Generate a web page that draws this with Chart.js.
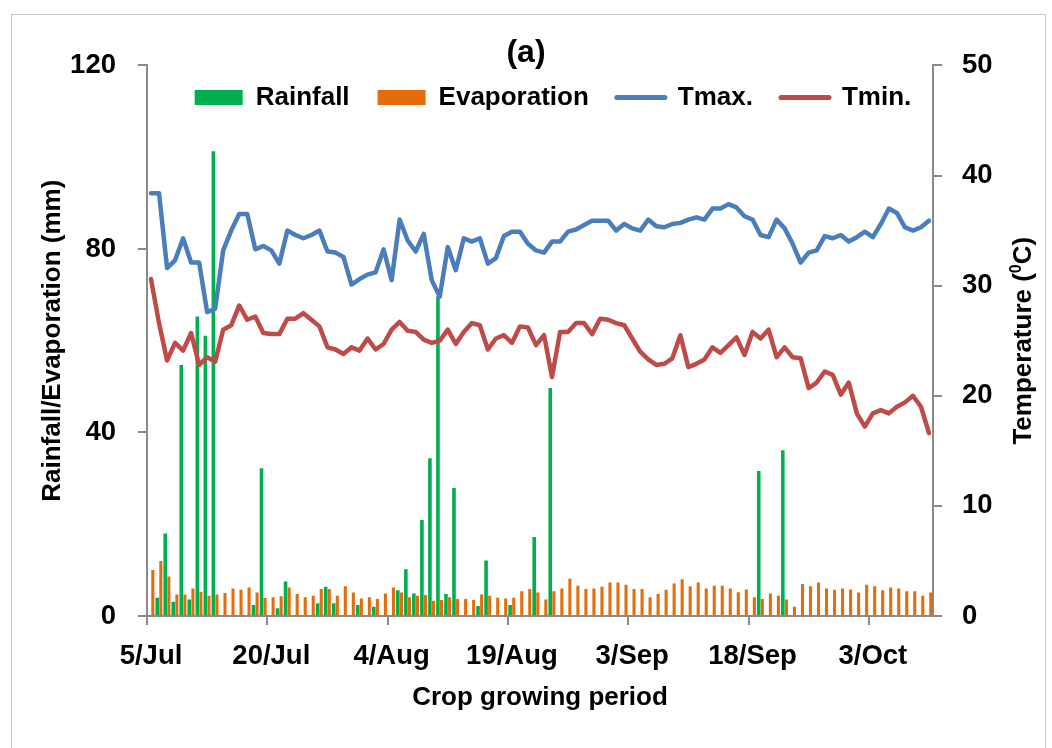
<!DOCTYPE html>
<html>
<head>
<meta charset="utf-8">
<script src="https://cdn.jsdelivr.net/npm/chart.js@4/dist/chart.umd.min.js"></script>
<style>
  html, body { margin: 0; padding: 0; background: #fff; overflow: hidden; }
  #wrap { position: relative; width: 1052px; height: 748px; }
  #frame { position: absolute; left: 11px; top: 14px; width: 1033px; height: 760px; border: 1px solid #c8c8c8; pointer-events: none; }
</style>
</head>
<body>
<div id="wrap"><canvas id="chartA"></canvas><div id="frame"></div></div>
<script>
// daily data, 5 Jul - 10 Oct
const startDay = new Date(2000, 6, 5);
const dayCount = 98;
const tickLabels = ['5/Jul', '20/Jul', '4/Aug', '19/Aug', '3/Sep', '18/Sep', '3/Oct'];

const rainfall = [
    0, 4.0, 18.0, 3.1, 54.7, 3.6, 65.3, 61.1, 101.3, 0,
    0, 0, 0, 2.4, 32.2, 0, 1.7, 7.5, 0, 0,
    0, 2.8, 6.4, 2.8, 0, 0, 2.4, 0, 2.0, 0,
    0, 5.6, 10.2, 4.9, 20.9, 34.4, 69.7, 4.8, 27.9, 0,
    0, 2.2, 12.1, 0, 0, 2.4, 0, 0, 17.2, 0,
    49.7, 0, 0, 0, 0, 0, 0, 0, 0, 0,
    0, 0, 0, 0, 0, 0, 0, 0, 0, 0,
    0, 0, 0, 0, 0, 0, 31.6, 0, 0, 36.1,
    0, 0, 0, 0, 0, 0, 0, 0, 0, 0,
    0, 0, 0, 0, 0, 0, 0, 0
];

const evaporation = [
    10.0, 12.0, 8.6, 4.7, 4.7, 6.0, 5.3, 4.4, 4.7, 5.0,
    6.0, 5.7, 6.2, 5.1, 3.9, 4.1, 4.3, 6.2, 4.8, 4.1,
    4.4, 5.9, 5.9, 4.4, 6.5, 5.1, 3.8, 4.1, 3.7, 4.9,
    6.2, 5.1, 4.1, 4.4, 4.6, 3.3, 3.5, 4.1, 3.7, 3.7,
    3.5, 4.7, 4.4, 4.0, 3.8, 4.0, 5.4, 5.9, 5.1, 3.6,
    5.4, 6.0, 8.1, 6.6, 5.9, 6.0, 6.4, 7.3, 7.3, 6.8,
    5.9, 5.9, 4.1, 4.8, 5.7, 7.1, 8.0, 6.5, 7.3, 6.0,
    6.6, 6.6, 6.0, 5.2, 5.8, 4.1, 3.7, 4.9, 4.4, 3.6,
    2.0, 7.0, 6.5, 7.3, 6.0, 5.7, 6.0, 5.8, 5.1, 6.8,
    6.5, 5.6, 6.2, 6.0, 5.4, 5.4, 4.4, 5.1
];

const tMax = [
    38.4, 38.4, 31.6, 32.3, 34.3, 32.1, 32.1, 27.6, 27.9, 33.2,
    35.0, 36.5, 36.5, 33.3, 33.6, 33.2, 32.0, 35.0, 34.6, 34.3,
    34.6, 35.0, 33.1, 33.0, 32.6, 30.1, 30.6, 31.0, 31.2, 33.3,
    30.5, 36.0, 34.1, 33.1, 34.7, 30.5, 29.0, 33.5, 31.4, 34.3,
    34.0, 34.3, 32.0, 32.5, 34.5, 34.9, 34.9, 33.8, 33.2, 33.0,
    34.0, 34.0, 34.9, 35.1, 35.5, 35.9, 35.9, 35.9, 35.0, 35.6,
    35.2, 35.0, 36.0, 35.4, 35.3, 35.6, 35.7, 36.0, 36.2, 36.0,
    37.0, 37.0, 37.4, 37.1, 36.3, 36.0, 34.6, 34.4, 36.0, 35.2,
    33.8, 32.1, 33.0, 33.2, 34.5, 34.3, 34.6, 34.0, 34.4, 34.9,
    34.4, 35.6, 37.0, 36.6, 35.3, 35.0, 35.3, 35.9
];

const tMin = [
    30.6, 26.6, 23.2, 24.8, 24.1, 25.7, 22.8, 23.5, 23.1, 26.0,
    26.4, 28.2, 26.9, 27.2, 25.7, 25.6, 25.6, 27.0, 27.0, 27.5,
    26.9, 26.3, 24.4, 24.2, 23.8, 24.4, 24.1, 25.2, 24.2, 24.7,
    26.0, 26.7, 25.9, 25.8, 25.1, 24.8, 25.0, 26.0, 24.7, 25.8,
    26.6, 26.4, 24.2, 25.2, 25.5, 24.8, 26.3, 26.2, 24.6, 25.5,
    21.7, 25.8, 25.8, 26.6, 26.6, 25.6, 27.0, 26.9, 26.6, 26.4,
    25.2, 24.0, 23.3, 22.8, 22.9, 23.4, 25.5, 22.6, 22.9, 23.3,
    24.4, 23.9, 24.6, 25.3, 23.7, 25.8, 25.2, 26.0, 23.5, 24.4,
    23.5, 23.4, 20.7, 21.2, 22.2, 21.9, 20.1, 21.2, 18.4, 17.2,
    18.4, 18.7, 18.4, 19.0, 19.4, 20.0, 19.0, 16.6
];

const months = ['Jan', 'Feb', 'Mar', 'Apr', 'May', 'Jun', 'Jul', 'Aug', 'Sep', 'Oct', 'Nov', 'Dec'];
const days = [];
for (let i = 0; i < dayCount; i++) {
    const d = new Date(startDay.getTime() + i * 86400000);
    days.push(d.getDate() + '/' + months[d.getMonth()]);
}

const FONT = '"Liberation Sans", Arial, sans-serif';
const AXIS_GREY = '#8a8a8a';

// legend sits inside the plot: it only reserves a few px in the layout,
// so open its clip box back up after layout (and nudge it right a bit)
const legendInside = {
    id: 'legendInside',
    afterLayout(chart) {
        const lg = chart.legend;
        lg.left += 13;
        lg.right += 13;
        lg.bottom = lg.top + 60;
        lg.height = 60;
    }
};

// right axis title reads bottom-to-top like the left one, with a raised 0
const rightTitle = {
    id: 'rightTitle',
    afterDraw(chart) {
        const ctx = chart.ctx;
        const s = chart.scales.y1;
        const big = 'bold 26px ' + FONT;
        const small = 'bold 16px ' + FONT;
        ctx.save();
        ctx.translate(1024, (s.top + s.bottom) / 2);
        ctx.rotate(-Math.PI / 2);
        ctx.fillStyle = '#000';
        ctx.textBaseline = 'middle';
        ctx.textAlign = 'left';
        ctx.font = big;
        const w1 = ctx.measureText('Temperature (').width;
        const w3 = ctx.measureText('C)').width;
        ctx.font = small;
        const w2 = ctx.measureText('0').width;
        let x = -(w1 + w2 + w3) / 2;
        ctx.font = big;
        ctx.fillText('Temperature (', x, 0);
        x += w1;
        ctx.font = small;
        ctx.fillText('0', x, -7);
        x += w2;
        ctx.font = big;
        ctx.fillText('C)', x, 0);
        ctx.restore();
    }
};

new Chart(document.getElementById('chartA'), {
    type: 'bar',
    data: {
        labels: days,
        datasets: [{
            label: 'Rainfall',
            data: rainfall,
            backgroundColor: '#00b050',
            yAxisID: 'y',
            order: 2,
            categoryPercentage: 0.9,
            barPercentage: 1.0
        }, {
            label: 'Evaporation',
            data: evaporation,
            backgroundColor: '#e46c0a',
            yAxisID: 'y',
            order: 2,
            categoryPercentage: 0.9,
            barPercentage: 0.85
        }, {
            type: 'line',
            label: 'Tmax.',
            data: tMax,
            borderColor: '#4a7ebb',
            backgroundColor: '#4a7ebb',
            borderWidth: 4.5,
            pointRadius: 0,
            tension: 0,
            borderJoinStyle: 'round',
            borderCapStyle: 'round',
            yAxisID: 'y1',
            order: 1
        }, {
            type: 'line',
            label: 'Tmin.',
            data: tMin,
            borderColor: '#be4b48',
            backgroundColor: '#be4b48',
            borderWidth: 4.5,
            pointRadius: 0,
            tension: 0,
            borderJoinStyle: 'round',
            borderCapStyle: 'round',
            yAxisID: 'y1',
            order: 1
        }]
    },
    options: {
        responsive: true,
        maintainAspectRatio: false,
        animation: false,
        layout: { padding: 0 },
        plugins: {
            tooltip: { enabled: false },
            title: {
                display: true,
                text: '(a)',
                color: '#000',
                font: { family: FONT, size: 32, weight: 'bold' },
                padding: { top: 34, bottom: -16 }
            },
            legend: {
                position: 'top',
                fullSize: false,
                maxHeight: 9,
                labels: {
                    color: '#000',
                    font: { family: FONT, size: 26, weight: 'bold' },
                    usePointStyle: true,
                    pointStyleWidth: 48,
                    boxHeight: 15,
                    padding: 28,
                    sort: (a, b) => a.datasetIndex - b.datasetIndex,
                    generateLabels(chart) {
                        const items = Chart.defaults.plugins.legend.labels.generateLabels(chart);
                        items.forEach(item => {
                            const ds = chart.data.datasets[item.datasetIndex];
                            if (ds.type === 'line') {
                                item.pointStyle = 'line';
                                item.strokeStyle = ds.borderColor;
                                item.lineWidth = 5;
                                item.lineCap = 'round';
                            } else {
                                item.pointStyle = 'rect';
                                item.fillStyle = ds.backgroundColor;
                                item.lineWidth = 0;
                            }
                        });
                        return items;
                    }
                }
            }
        },
        scales: {
            x: {
                offset: true,
                grid: {
                    offset: true,
                    drawOnChartArea: false,
                    tickLength: 9,
                    lineWidth: 2,
                    color: ctx => (ctx.index % 15 === 0 ? AXIS_GREY : 'transparent')
                },
                border: { color: AXIS_GREY, width: 2 },
                ticks: {
                    autoSkip: false,
                    maxRotation: 0,
                    minRotation: 0,
                    padding: 15,
                    color: '#000',
                    font: { family: FONT, size: 27.5, weight: 'bold' },
                    callback: (value, index) => (index % 15 === 0 ? tickLabels[index / 15] : '')
                },
                title: {
                    display: true,
                    text: 'Crop growing period',
                    color: '#000',
                    font: { family: FONT, size: 26, weight: 'bold' },
                    padding: { top: 0, bottom: 35 }
                },
                afterFit(scale) { scale.height = 132; }
            },
            y: {
                position: 'left',
                min: 0,
                max: 120,
                grid: { drawOnChartArea: false, tickLength: 9, lineWidth: 2, color: AXIS_GREY },
                border: { color: AXIS_GREY, width: 2 },
                ticks: {
                    stepSize: 40,
                    padding: 22,
                    color: '#000',
                    font: { family: FONT, size: 27.5, weight: 'bold' }
                },
                title: {
                    display: true,
                    text: 'Rainfall/Evaporation (mm)',
                    color: '#000',
                    font: { family: FONT, size: 26, weight: 'bold' },
                    padding: { top: 37.5, bottom: 0 }
                },
                afterFit(scale) { scale.width = 147; }
            },
            y1: {
                position: 'right',
                min: 0,
                max: 50,
                grid: { drawOnChartArea: false, tickLength: 9, lineWidth: 2, color: AXIS_GREY },
                border: { color: AXIS_GREY, width: 2 },
                ticks: {
                    stepSize: 10,
                    padding: 20,
                    color: '#000',
                    font: { family: FONT, size: 27.5, weight: 'bold' }
                },
                afterFit(scale) { scale.width = 119; }
            }
        }
    },
    plugins: [legendInside, rightTitle]
});
</script>
</body>
</html>
